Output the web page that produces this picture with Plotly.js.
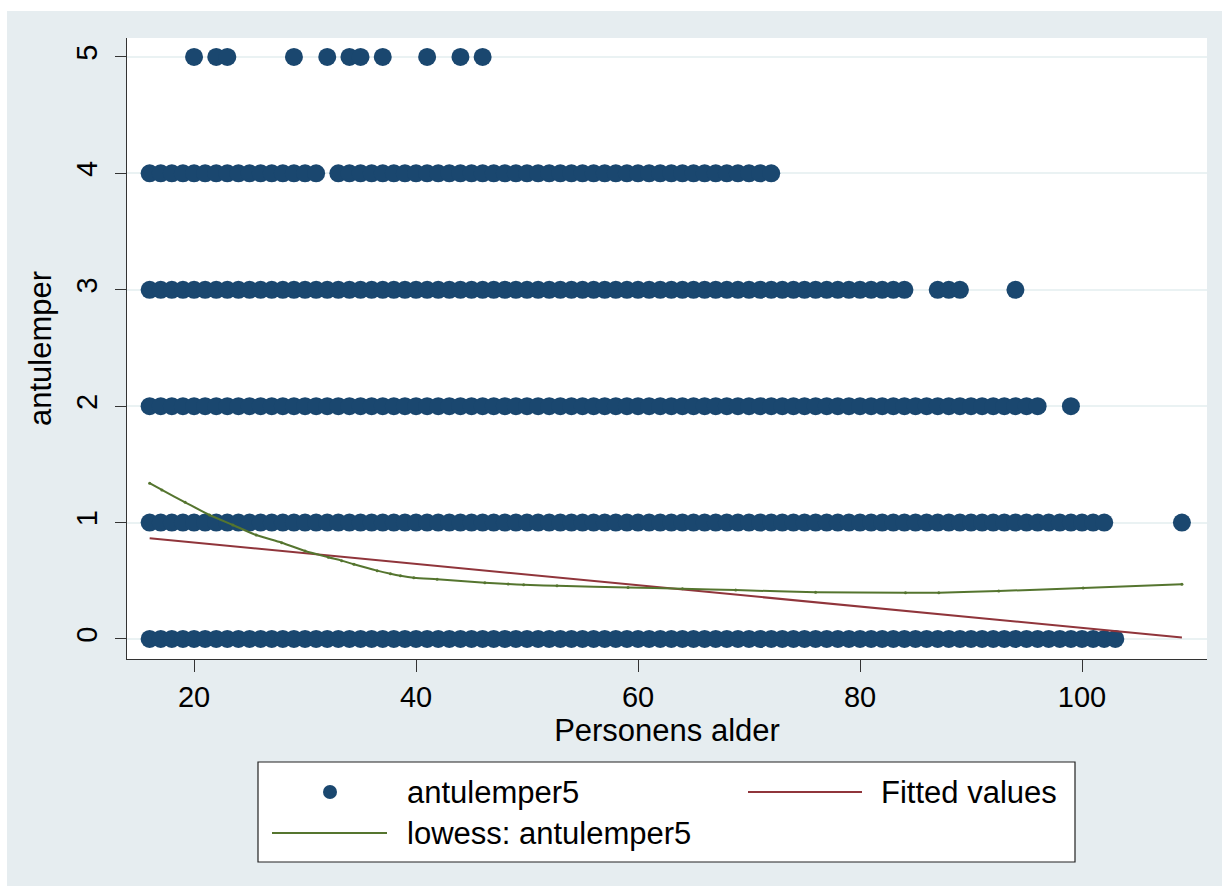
<!DOCTYPE html>
<html>
<head>
<meta charset="utf-8">
<script src="https://cdn.plot.ly/plotly-3.0.1.min.js"></script>
<style>
  html, body { margin: 0; padding: 0; background: #ffffff; width: 1230px; height: 893px; overflow: hidden; }
  #chart { position: absolute; left: 7px; top: 11px; width: 1215px; height: 875px; }
</style>
</head>
<body>
<div id="chart"></div>
<script>
// ---- Data ----
// Scatter: runs of ages [from, to] (integer years) observed at each value of antulemper5
const runsLevel0 = [[16, 103]];
const runsLevel1 = [[16, 102], [109, 109]];
const runsLevel2 = [[16, 96], [99, 99]];
const runsLevel3 = [[16, 84], [87, 89], [94, 94]];
const runsLevel4 = [[16, 31], [33, 72]];
const runsLevel5 = [[20, 20], [22, 23], [29, 29], [32, 32], [34, 35], [37, 37], [41, 41], [44, 44], [46, 46]];
const levelValues = [0, 1, 2, 3, 4, 5];

// Fitted values (linear fit) at the ends of the age range
const fitAges = [16, 109];
const fitValues = [0.865, 0.013];

// Lowess smoother
const lowessAges = [16, 17.1, 19.2, 21.4, 23.5, 25.6, 27.9, 30, 32.1, 33.3, 34.4, 36.5, 37.7, 38.6, 39.8, 41.9, 46.2, 48.3, 49.7, 52.7, 59.1, 64, 68.8, 76, 84.1, 87.1, 92.5, 100.1, 109];
const lowessValues = [1.338, 1.28, 1.174, 1.065, 0.979, 0.893, 0.827, 0.756, 0.702, 0.673, 0.642, 0.587, 0.561, 0.544, 0.527, 0.513, 0.484, 0.472, 0.466, 0.457, 0.443, 0.431, 0.42, 0.402, 0.397, 0.398, 0.412, 0.438, 0.47];

// Axis ticks
const xTicks = [20, 40, 60, 80, 100];
const yTicks = [0, 1, 2, 3, 4, 5];

// Texts
const xTitle = 'Personens alder';
const yTitle = 'antulemper';
const nameScatter = 'antulemper5';
const nameFit = 'Fitted values';
const nameLowess = 'lowess: antulemper5';

// ---- Build scatter points from runs ----
const allRuns = [runsLevel0, runsLevel1, runsLevel2, runsLevel3, runsLevel4, runsLevel5];
const scatterX = [], scatterY = [];
allRuns.forEach((runs, i) => {
  runs.forEach(([a, b]) => {
    for (let age = a; age <= b; age++) { scatterX.push(age); scatterY.push(levelValues[i]); }
  });
});

const NAVY = '#1a476f', MAROON = '#90353b', GREEN = '#55752f';
const FONT = 'Liberation Sans, Arial, Helvetica, sans-serif';

const traces = [
  { type: 'scatter', mode: 'markers', name: nameScatter, x: scatterX, y: scatterY,
    marker: { color: NAVY, size: 18, line: { width: 0 } }, showlegend: false, cliponaxis: false },
  { type: 'scatter', mode: 'lines', name: nameFit, x: fitAges, y: fitValues,
    line: { color: MAROON, width: 2 }, showlegend: false },
  { type: 'scatter', mode: 'lines+markers', name: nameLowess, x: lowessAges, y: lowessValues,
    line: { color: GREEN, width: 2, shape: 'spline', smoothing: 0.8 }, marker: { color: GREEN, size: 3 }, showlegend: false }
];

// Legend drawn in paper coordinates (plot area: 1080 x 621 px)
const PW = 1080, PH = 621;
const px = v => (v - 127) / PW;      // page x -> paper
const py = v => (659 - v) / PH;      // page y -> paper
const row1 = 792, row2 = 833;

const shapes = [
  { type: 'rect', xref: 'paper', yref: 'paper', x0: px(258), x1: px(1075), y0: py(762), y1: py(862),
    line: { color: '#222', width: 1.2 }, fillcolor: '#ffffff', layer: 'below' },
  { type: 'circle', xref: 'paper', yref: 'paper', x0: px(330 - 7), x1: px(330 + 7), y0: py(row1 + 7), y1: py(row1 - 7),
    line: { width: 0 }, fillcolor: NAVY },
  { type: 'line', xref: 'paper', yref: 'paper', x0: px(748), x1: px(862), y0: py(row1), y1: py(row1),
    line: { color: MAROON, width: 2 } },
  { type: 'line', xref: 'paper', yref: 'paper', x0: px(272), x1: px(387), y0: py(row2), y1: py(row2),
    line: { color: GREEN, width: 2 } }
];

const legendText = (txt, xPage, yPage) => ({
  text: txt, xref: 'paper', yref: 'paper', x: px(xPage), y: py(yPage),
  xanchor: 'left', yanchor: 'middle', showarrow: false,
  font: { family: FONT, size: 31, color: '#000' }
});

const annotations = [
  legendText(nameScatter, 405, row1),
  legendText(nameFit, 879, row1),
  legendText(nameLowess, 405, row2)
];

const layout = {
  width: 1215, height: 875,
  paper_bgcolor: 'rgb(230,237,240)',
  plot_bgcolor: '#ffffff',
  margin: { l: 120, r: 15, t: 27, b: 227, pad: 0 },
  font: { family: FONT, size: 29, color: '#000' },
  showlegend: false,
  xaxis: {
    range: [13.96, 111.26], tickvals: xTicks, ticktext: xTicks.map(String),
    showgrid: false, zeroline: false,
    showline: true, linecolor: '#333', linewidth: 1,
    ticks: 'outside', ticklen: 12, tickcolor: '#333', tickwidth: 1,
    tickfont: { family: FONT, size: 29, color: '#000' },
    title: { text: xTitle, font: { family: FONT, size: 31, color: '#000' }, standoff: 0 },
    automargin: false
  },
  yaxis: {
    range: [-0.172, 5.163], tickvals: yTicks, ticktext: yTicks.map(String),
    showgrid: true, gridcolor: 'rgb(234,242,243)', gridwidth: 2, zeroline: false,
    showline: true, linecolor: '#333', linewidth: 1,
    ticks: 'outside', ticklen: 11, tickcolor: '#333', tickwidth: 1,
    tickangle: -90, ticklabelstandoff: 6,
    tickfont: { family: FONT, size: 29, color: '#000' },
    title: { text: yTitle, font: { family: FONT, size: 31, color: '#000' }, standoff: 10 },
    automargin: false
  },
  shapes: shapes,
  annotations: annotations
};

Plotly.newPlot('chart', traces, layout, { staticPlot: true, displayModeBar: false });
</script>
</body>
</html>
